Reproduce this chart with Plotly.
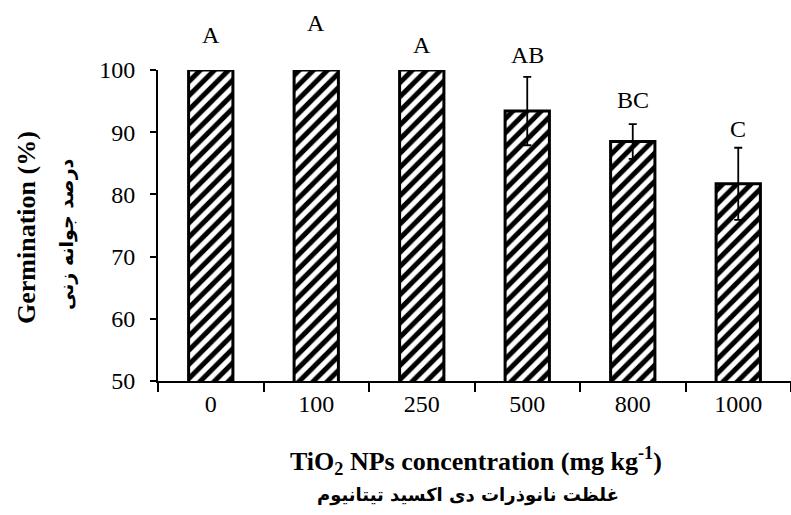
import plotly.graph_objects as go

categories = ["0", "100", "250", "500", "800", "1000"]
germination = [100, 100, 100, 93.4, 88.5, 81.7]
error = [0, 0, 0, 5.5, 2.8, 5.8]
letters = ["A", "A", "A", "AB", "BC", "C"]
y_ticks = [50, 60, 70, 80, 90, 100]

# layout constants (pixel lift of each letter above bar/error top)
letter_lift_px = [35, 47, 25, 22, 24, 19]

SERIF = "Liberation Serif, Times New Roman, serif"
ARAB = "DejaVu Sans, Noto Sans, sans-serif"

fig = go.Figure()
fig.add_trace(go.Bar(
    x=categories, y=germination, width=0.42,
    marker=dict(color="white",
                line=dict(color="black", width=3),
                pattern=dict(shape="/", fgcolor="#000000", bgcolor="#ffffff",
                             fgopacity=1, fillmode="replace",
                             size=10, solidity=0.5)),
    error_y=dict(type="data", array=[e if e > 0 else None for e in error],
                 visible=True, color="black", thickness=1.8, width=4),
))

W, H = 791, 515
L, R, T, B = 158, 0, 70, 134

annotations = []
for i, (v, e, t, lift) in enumerate(zip(germination, error, letters, letter_lift_px)):
    annotations.append(dict(x=i, y=v + e, xref="x", yref="y", text=t, showarrow=False,
                            yanchor="middle", yshift=lift,
                            font=dict(family=SERIF, size=24, color="black")))

titles = [
    dict(px=26, py=228, text="<b>Germination (%)</b>", textangle=-90,
         font=dict(family=SERIF, size=26, color="black")),
    dict(px=67, py=234, text="<b>درصد جوانه زنی</b>", textangle=-90,
         font=dict(family=ARAB, size=19, color="black")),
    dict(px=476, py=461, text="<b>TiO<sub>2</sub> NPs concentration (mg kg<sup>-1</sup>)</b>",
         textangle=0, font=dict(family=SERIF, size=26, color="black")),
    dict(px=468, py=495, text="<b>غلظت نانوذرات دی اکسید تیتانیوم</b>", textangle=0,
         font=dict(family=ARAB, size=18, color="black")),
]
for tt in titles:
    annotations.append(dict(x=(tt["px"] - L) / (W - L - R),
                            y=1 - (tt["py"] - T) / (H - T - B),
                            xref="paper", yref="paper", text=tt["text"],
                            textangle=tt["textangle"], showarrow=False,
                            xanchor="center", yanchor="middle", font=tt["font"]))

fig.update_layout(
    width=W, height=H,
    margin=dict(l=L, r=R, t=T, b=B),
    paper_bgcolor="white", plot_bgcolor="white",
    showlegend=False,
    annotations=annotations,
    font=dict(family=SERIF, size=24, color="black"),
    xaxis=dict(type="category", range=[-0.5, len(categories) - 0.5],
               showline=True, linecolor="black", linewidth=2,
               ticks="outside", tickson="boundaries", ticklen=9, tickwidth=1.5,
               tickcolor="black", showgrid=False, zeroline=False,
               tickfont=dict(family=SERIF, size=24, color="black")),
    yaxis=dict(range=[50, 100], tickvals=y_ticks, showline=True, linecolor="black",
               linewidth=2, ticks="outside", ticklen=6, tickwidth=1.5, tickcolor="black",
               showgrid=False, zeroline=False, ticklabelstandoff=10,
               tickfont=dict(family=SERIF, size=24, color="black")),
)

fig.write_html("out.html")
